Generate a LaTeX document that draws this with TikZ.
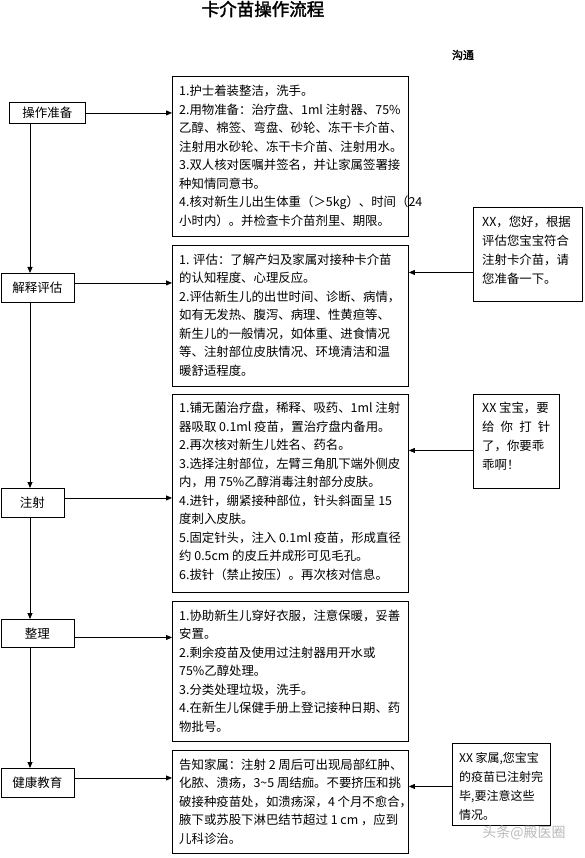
\documentclass[tikz,border=0pt]{standalone}
\usepackage{fontspec}
\setmainfont{Noto Sans CJK SC}[AutoFakeBold=2]
\usetikzlibrary{arrows.meta}
\tikzset{
  box/.style={draw, line width=0.9pt, inner sep=0pt, anchor=north west},
  txt/.style={inner sep=0pt, anchor=north west, align=left, font=\fontsize{12.4pt}{18.5pt}\selectfont},
  ctxt/.style={inner sep=0pt, anchor=north west, align=left, font=\fontsize{12.4pt}{19pt}\selectfont},
  lbl/.style={font=\fontsize{12.5pt}{15pt}\selectfont, inner sep=0pt},
  arr/.style={line width=0.8pt, -{Triangle[length=6pt,width=5pt]}},
}
\begin{document}
\begin{tikzpicture}[x=1pt,y=-1pt]
\useasboundingbox (0,0) rectangle (584,858);
% title
\node[font=\fontsize{17.5pt}{20pt}\selectfont\bfseries, inner sep=0pt] (title) at (263,9) {卡介苗操作流程};
\node[font=\fontsize{11pt}{13pt}\selectfont\bfseries, inner sep=0pt] (gt) at (463,55) {沟通};
% left step boxes
\node[box, minimum width=76pt, minimum height=21pt] (b1) at (9,102) {};
\node[lbl] (l1) at (b1.center) {操作准备};
\node[box, minimum width=73pt, minimum height=29pt] (b2) at (0.5,273) {};
\node[lbl] (l2) at (b2.center) {解释评估};
\node[box, minimum width=63pt, minimum height=29pt] (b3) at (0.5,488) {};
\node[lbl] (l3) at (b3.center) {注射};
\node[box, minimum width=73pt, minimum height=28pt] (b4) at (0.5,619) {};
\node[lbl] (l4) at (b4.center) {整理};
\node[box, minimum width=73pt, minimum height=29pt] (b5) at (0.5,768) {};
\node[lbl] (l5) at (b5.center) {健康教育};
% detail boxes
\node[box, minimum width=236pt, minimum height=160pt] (d1) at (172,76) {};
\node[txt] (t1) at ([xshift=7pt,yshift=-6.5pt]d1.north west) {\strut 1.护士着装整洁，洗手。\\
2.用物准备：治疗盘、1ml 注射器、75\%\\
乙醇、棉签、弯盘、砂轮、冻干卡介苗、\\
注射用水砂轮、冻干卡介苗、注射用水。\\
3.双人核对医嘱并签名，并让家属签署接\\
种知情同意书。\\
4.核对新生儿出生体重（＞5kg）、时间（24\\
小时内）。并检查卡介苗剂里、期限。};
\node[box, minimum width=236pt, minimum height=141pt] (d2) at (172,245) {};
\node[txt] (t2) at ([xshift=7pt,yshift=-6pt]d2.north west) {\strut 1. 评估：了解产妇及家属对接种卡介苗\\
的认知程度、心理反应。\\
2.评估新生儿的出世时间、诊断、病情，\\
如有无发热、腹泻、病理、性黄疸等、\\
新生儿的一般情况，如体重、进食情况\\
等、注射部位皮肤情况、环境清洁和温\\
暖舒适程度。};
\node[box, minimum width=236pt, minimum height=198pt] (d3) at (172,394) {};
\node[txt] (t3) at ([xshift=7pt,yshift=-5.5pt]d3.north west) {\strut 1.铺无菌治疗盘，稀释、吸药、1ml 注射\\
器吸取 0.1ml 疫苗，置治疗盘内备用。\\
2.再次核对新生儿姓名、药名。\\
3.选择注射部位，左臂三角肌下端外侧皮\\
内，用 75\%乙醇消毒注射部分皮肤。\\
4.进针，绷紧接种部位，针头斜面呈 15\\
度刺入皮肤。\\
5.固定针头，注入 0.1ml 疫苗，形成直径\\
约 0.5cm 的皮丘并成形可见毛孔。\\
6.拔针（禁止按压）。再次核对信息。};
\node[box, minimum width=236pt, minimum height=140pt] (d4) at (172,601) {};
\node[txt] (t4) at ([xshift=7pt,yshift=-6pt]d4.north west) {\strut 1.协助新生儿穿好衣服，注意保暖，妥善\\
安置。\\
2.剩余疫苗及使用过注射器用开水或\\
75\%乙醇处理。\\
3.分类处理垃圾，洗手。\\
4.在新生儿保健手册上登记接种日期、药\\
物批号。};
\node[box, minimum width=236pt, minimum height=103pt] (d5) at (172,750) {};
\node[txt] (t5) at ([xshift=7pt,yshift=-6pt]d5.north west) {\strut 告知家属：注射 2 周后可出现局部红肿、\\
化脓、溃疡，3\textasciitilde5 周结痂。不要挤压和挑\\
破接种疫苗处，如溃疡深，4 个月不愈合，\\
腋下或苏股下淋巴结节超过 1 cm ，应到\\
儿科诊治。};
% communication boxes
\node[box, minimum width=109pt, minimum height=94pt] (c1) at (473,207) {};
\node[ctxt] (s1) at ([xshift=9pt,yshift=-6pt]c1.north west) {\strut XX，您好，根据\\
评估您宝宝符合\\
注射卡介苗，请\\
您准备一下。};
\node[box, minimum width=86pt, minimum height=94pt] (c2) at (473,394) {};
\node[ctxt] (s2) at ([xshift=9pt,yshift=-5pt]c2.north west) {\strut XX 宝宝，要\\
\makebox[68pt][s]{给\hfill 你\hfill 打\hfill 针}\\
了，你要乖\\
乖啊！};
\node[box, minimum width=98pt, minimum height=82pt] (c3) at (452,743) {};
\node[ctxt, font=\fontsize{12pt}{19pt}\selectfont] (s3) at ([xshift=7pt,yshift=-6pt]c3.north west) {\strut XX 家属,您宝宝\\
的疫苗已注射完\\
毕,要注意这些\\
情况。};
% watermark
\node[text=gray!55, font=\fontsize{14pt}{16pt}\selectfont, inner sep=0pt] (wm) at (524,833) {头条@殿医圈};
% main vertical flow
\coordinate (v) at (30,0);
\draw[arr] (b1.south -| v) -- (b2.north -| v);
\draw[arr] (b2.south -| v) -- (b3.north -| v);
\draw[arr] (b3.south -| v) -- (b4.north -| v);
\draw[arr] (b4.south -| v) -- (b5.north -| v);
% step -> detail
\draw[arr] (b1.east) -- (b1.east -| d1.west);
\draw[arr] ([yshift=5pt]b2.east) -- ([yshift=5pt]b2.east -| d2.west);
\draw[arr] ([yshift=5pt]b3.east) -- ([yshift=5pt]b3.east -| d3.west);
\draw[arr] ([yshift=-4pt]b4.east) -- ([yshift=-4pt]b4.east -| d4.west);
\draw[arr] ([yshift=5pt]b5.east) -- ([yshift=5pt]b5.east -| d5.west);
% communication -> detail
\draw[arr] ([yshift=-18pt]c1.west) -- ([yshift=-18pt]c1.west -| d2.east);
\draw[arr] ([yshift=-9pt]c2.west) -- ([yshift=-9pt]c2.west -| d3.east);
\draw[arr] ([yshift=-2pt]c3.west) -- ([yshift=-2pt]c3.west -| d5.east);
\end{tikzpicture}
\end{document}
